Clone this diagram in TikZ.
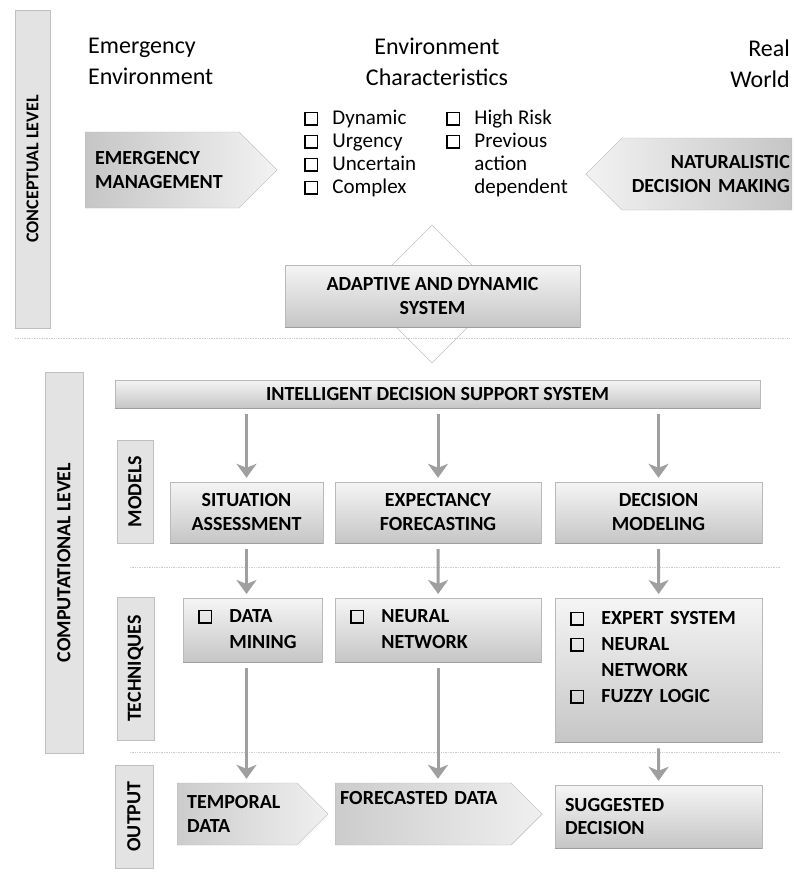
\documentclass[tikz,border=0pt]{standalone}
\usepackage{fontspec}
\setmainfont{Carlito}
\usepackage{tikz}
\usetikzlibrary{shapes}
\usetikzlibrary{arrows.meta}
\newcommand{\headfont}{\fontsize{24}{31}\selectfont}
\newcommand{\listfont}{\fontsize{21}{23}\selectfont}
\newcommand{\boxfont}{\fontsize{20}{24}\selectfont\bfseries}
\newcommand{\techfont}{\fontsize{20}{26}\selectfont\bfseries}
\newcommand{\chkbox}{{\setlength{\fboxsep}{0pt}\setlength{\fboxrule}{1.6pt}\fbox{\rule{0pt}{11pt}\rule{11pt}{0pt}}}}
\tikzset{
	head node/.style={font=\headfont,inner sep=0pt},
	grey box/.style={draw=gray!55,top color=gray!8,bottom color=gray!45,font=\boxfont,align=center,inner sep=2pt},
	level bar/.style={draw=gray!50,fill=gray!22,rotate=90,font=\boxfont,inner sep=0pt},
	arrow box/.style={signal,signal pointer angle=90,draw=gray!55,font=\boxfont,align=left,inner xsep=10pt,inner ysep=2pt},
	tech box/.style={grey box,font=\techfont,align=left,anchor=north west,inner xsep=15pt},
	flow/.style={->,draw=gray!75,line width=3pt,shorten <=6pt,shorten >=4pt},
	sep line/.style={gray!40,densely dotted,line width=0.7pt}
}

\begin{document}
\begin{tikzpicture}[x=1pt,y=-1pt,>={Stealth[length=14pt,width=20pt,inset=4pt]}]
	\useasboundingbox (0,0) rectangle (794,880);
	\node [head node,anchor=north west,align=left] (1) at (88,38) {Emergency\\Environment};
	\node [head node,anchor=north,align=center] (2) at (437,38) {Environment\\Characteristics};
	\node [head node,anchor=north east,align=right] (3) at (790,40) {Real\\World};
	\node [font=\listfont,anchor=north,inner sep=0pt] (4) at (436,108) {%
		\begin{tabular}{@{}c@{\hspace{14pt}}l@{\hspace{30pt}}c@{\hspace{14pt}}l@{}}
		\chkbox & Dynamic & \chkbox & High Risk\\
		\chkbox & Urgency & \chkbox & Previous\\
		\chkbox & Uncertain & & action\\
		\chkbox & Complex & & dependent
		\end{tabular}};
	\node [arrow box,signal to=east,anchor=west,minimum height=76,text width=134,left color=gray!45,right color=gray!10] (5) at (85,170) {EMERGENCY\\MANAGEMENT};
	\node [arrow box,signal to=west,anchor=east,minimum height=72,text width=166,inner xsep=2pt,align=right,left color=gray!10,right color=gray!45] (6) at (792,174) {NATURALISTIC\\DECISION MAKING};
	\node [diamond,aspect=1,minimum size=138,draw=gray!60,fill=white,inner sep=0pt] (7) at (432,294) {};
	\node [grey box,minimum width=295,minimum height=62] (8) at (432.5,296) {ADAPTIVE AND DYNAMIC\\SYSTEM};
	\node [level bar,minimum width=318,minimum height=35,font=\fontsize{18}{20}\selectfont\bfseries] (9) at (32.5,169) {CONCEPTUAL LEVEL};
	\draw [sep line] (15,338) -- (790,338);
	\node [level bar,minimum width=381,minimum height=38] (10) at (64,562.5) {COMPUTATIONAL LEVEL};
	\node [grey box,minimum width=645,minimum height=28,inner sep=0pt] (11) at (437.5,394) {INTELLIGENT DECISION SUPPORT SYSTEM};
	\node [level bar,minimum width=103,minimum height=36] (12) at (135,491.5) {MODELS};
	\node [level bar,minimum width=143,minimum height=37] (13) at (135.5,668.5) {TECHNIQUES};
	\node [level bar,minimum width=103,minimum height=38] (14) at (134,816.5) {OUTPUT};
	\node [grey box,minimum width=153,minimum height=61] (15) at (246.5,512.5) {SITUATION\\ASSESSMENT};
	\node [grey box,minimum width=206,minimum height=61] (16) at (438,512.5) {EXPECTANCY\\FORECASTING};
	\node [grey box,minimum width=207,minimum height=61] (17) at (658.5,512.5) {DECISION\\MODELING};
	\draw [sep line] (130,567) -- (780,567);
	\node [tech box,minimum width=139,minimum height=64,text width=109] (18) at (183,598) {%
		\begin{tabular}{@{}l@{\hspace{17pt}}l@{}}\chkbox & DATA\\ & MINING\end{tabular}};
	\node [tech box,minimum width=206,minimum height=64,text width=176] (19) at (335,598) {%
		\begin{tabular}{@{}l@{\hspace{17pt}}l@{}}\chkbox & NEURAL\\ & NETWORK\end{tabular}};
	\node [tech box,minimum width=207,minimum height=144,text width=177] (20) at (555,598) {%
		\begin{tabular}{@{}l@{\hspace{17pt}}l@{}}\chkbox & EXPERT SYSTEM\\ \chkbox & NEURAL\\ & NETWORK\\ \chkbox & FUZZY LOGIC\\[24pt]\end{tabular}};
	\draw [sep line] (130,752) -- (780,752);
	\node [arrow box,signal to=east,anchor=west,minimum height=62,text width=100,left color=gray!40,right color=gray!12] (21) at (177,814) {TEMPORAL\\DATA};
	\node [arrow box,signal to=east,anchor=west,minimum height=62,text width=166,inner xsep=5pt,left color=gray!40,right color=gray!12] (22) at (335,814) {FORECASTED DATA\\\strut};
	\node [grey box,minimum width=207,minimum height=63,text width=187,align=left] (23) at (658.5,816.5) {SUGGESTED\\DECISION};
	\foreach \n in {15,16,17}
		\draw [flow] (\n |- 11.south) -- (\n);
	\draw [flow] (15) -- (15 |- 18.north);
	\draw [flow] (16) -- (19);
	\draw [flow] (17) -- (20);
	\draw [flow] (15 |- 18.south) -- (15 |- 21.north);
	\draw [flow] (16 |- 19.south) -- (16 |- 22.north);
	\draw [flow] (20) -- (23);
	\foreach \n in {8,11,15,16,17,18,19,20,23}
		\draw [gray!75,line width=1.2pt] (\n.south west) -- (\n.south east);
\end{tikzpicture}
\end{document}
